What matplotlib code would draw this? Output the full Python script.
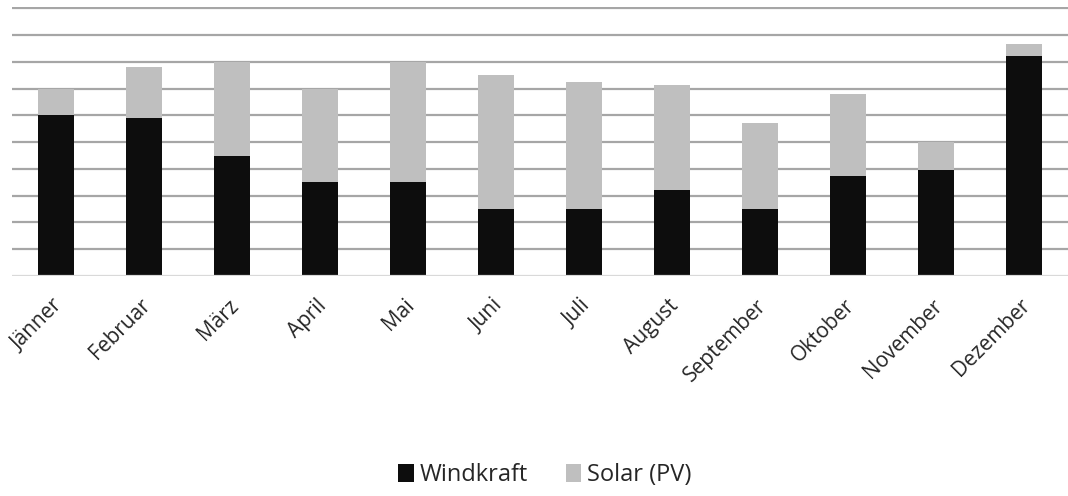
import matplotlib
matplotlib.use("Agg")
import matplotlib.pyplot as plt
import numpy as np

# Monatswerte (relative Einheiten)
monate = ["Jänner", "Februar", "März", "April", "Mai", "Juni", "Juli",
          "August", "September", "Oktober", "November", "Dezember"]
windkraft = [6.0, 5.9, 4.5, 3.5, 3.5, 2.5, 2.5, 3.2, 2.5, 3.75, 3.95, 8.2]
solar = [1.0, 1.9, 3.5, 3.5, 4.5, 5.0, 4.75, 3.95, 3.2, 3.05, 1.05, 0.45]

plt.rcParams['font.family'] = ['Open Sans', 'DejaVu Sans']

fig = plt.figure(figsize=(10.68, 4.96), dpi=100)
ax = fig.add_axes([0.0112, 0.4435, 0.9888, 0.5415])

x = np.arange(len(monate))
ax.bar(x, windkraft, width=0.4, color="#0d0d0d", label="Windkraft", zorder=3)
ax.bar(x, solar, width=0.4, bottom=windkraft, color="#bfbfbf", label="Solar (PV)", zorder=3)

ax.set_ylim(0, 10.03)
ax.set_xlim(-0.5, len(monate) - 0.5)
ax.set_yticks(np.arange(1, 11))
ax.yaxis.grid(True, color="#a6a6a6", linewidth=1.6, zorder=0)
ax.axhline(0, color="#d9d9d9", linewidth=1.6, zorder=4)
ax.tick_params(axis="y", left=False, labelleft=False)
ax.tick_params(axis="x", length=0, pad=19)
for s in ax.spines.values():
    s.set_visible(False)

ax.set_xticks(x + 0.04)
ax.set_xticklabels(monate, rotation=45, ha="right", va="center",
                   rotation_mode="anchor", fontsize=15, color="#262626")

fig.legend(loc="lower center", bbox_to_anchor=(0.51, -0.025), ncol=2, frameon=False,
           fontsize=17, handlelength=0.65, handleheight=0.75, handletextpad=0.25,
           columnspacing=1.6, labelcolor="#262626")

fig.savefig("out.png", dpi=100)
